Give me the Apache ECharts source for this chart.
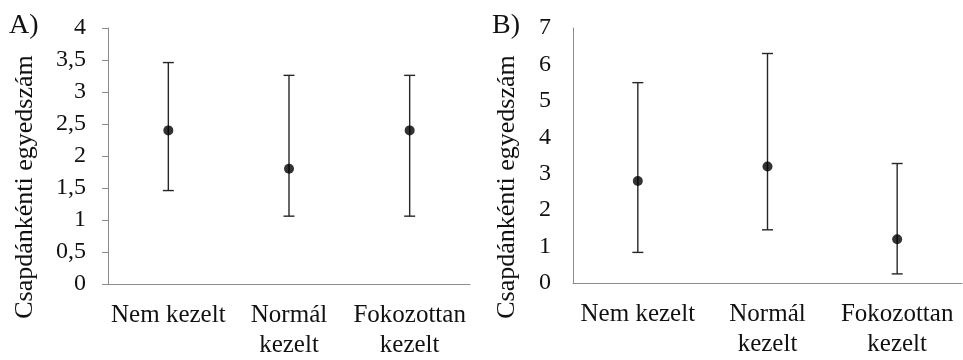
<!DOCTYPE html>
<html>
<head>
<meta charset="utf-8">
<script src="https://cdn.jsdelivr.net/npm/echarts@6/dist/echarts.min.js"></script>
<style>
  html, body { margin: 0; padding: 0; background: #fff; }
  #chart { width: 963px; height: 360px; }
</style>
</head>
<body>
<div id="chart"></div>
<script>
// Treatment groups
const categories = ['Nem kezelt', 'Normál\nkezelt', 'Fokozottan\nkezelt'];

// Panel A: mean catch per trap with lower / upper limits
const meanA = [2.4, 1.8, 2.4];
const lowA  = [1.46, 1.06, 1.06];
const highA = [3.46, 3.26, 3.26];

// Panel B: mean catch per trap with lower / upper limits
const meanB = [2.8, 3.2, 1.2];
const lowB  = [0.84, 1.46, 0.25];
const highB = [5.5, 6.3, 3.28];

const yTicksA = { min: 0, max: 4, interval: 0.5 };
const yTicksB = { min: 0, max: 7, interval: 1 };

const yTitle = 'Csapdánkénti egyedszám';
const serif = 'Liberation Serif';
const axisGray = '#8c8c8c';
const barColor = '#262626';

function errorData(low, high) {
  return categories.map((c, i) => [i, low[i], high[i]]);
}

function errorRender(params, api) {
  const x = api.value(0);
  const lo = api.coord([x, api.value(1)]);
  const hi = api.coord([x, api.value(2)]);
  const half = 5.5;
  const style = { stroke: barColor, lineWidth: 1.4, fill: null };
  return {
    type: 'group',
    children: [
      { type: 'line', shape: { x1: hi[0], y1: hi[1], x2: lo[0], y2: lo[1] }, style },
      { type: 'line', shape: { x1: hi[0] - half, y1: hi[1], x2: hi[0] + half, y2: hi[1] }, style },
      { type: 'line', shape: { x1: lo[0] - half, y1: lo[1], x2: lo[0] + half, y2: lo[1] }, style }
    ]
  };
}

function xAxisFor(gridIndex) {
  return {
    type: 'category',
    gridIndex,
    data: categories,
    boundaryGap: true,
    axisLine: { lineStyle: { color: axisGray, width: 1 } },
    axisTick: { show: false },
    axisLabel: {
      interval: 0,
      margin: 16,
      color: '#111',
      fontFamily: serif,
      fontSize: 25,
      lineHeight: 30
    },
    splitLine: { show: false }
  };
}

function yAxisFor(gridIndex, ticks, showTicks) {
  return {
    type: 'value',
    gridIndex,
    min: ticks.min,
    max: ticks.max,
    interval: ticks.interval,
    axisLine: { show: true, lineStyle: { color: axisGray, width: 1 } },
    axisTick: { show: showTicks, length: 6, lineStyle: { color: axisGray } },
    axisLabel: {
      margin: 22,
      color: '#111',
      fontFamily: serif,
      fontSize: 24,
      formatter: v => String(v).replace('.', ',')
    },
    splitLine: { show: false }
  };
}

const chart = echarts.init(document.getElementById('chart'), null, { renderer: 'canvas' });

chart.setOption({
  backgroundColor: '#ffffff',
  animation: false,
  grid: [
    { left: 108, right: 493, top: 28, bottom: 74 },
    { left: 573, right: 1, top: 28, bottom: 77 }
  ],
  xAxis: [xAxisFor(0), xAxisFor(1)],
  yAxis: [yAxisFor(0, yTicksA, true), yAxisFor(1, yTicksB, false)],
  graphic: [
    { type: 'text', left: 9, top: 12, style: { text: 'A)', fontFamily: serif, fontSize: 28, fill: '#111' } },
    { type: 'text', left: 492, top: 12, style: { text: 'B)', fontFamily: serif, fontSize: 28, fill: '#111' } },
    { type: 'text', x: 25, y: 187, rotation: Math.PI / 2,
      style: { text: yTitle, fontFamily: serif, fontSize: 26, fill: '#111', align: 'center', verticalAlign: 'middle' } },
    { type: 'text', x: 507, y: 187, rotation: Math.PI / 2,
      style: { text: yTitle, fontFamily: serif, fontSize: 26, fill: '#111', align: 'center', verticalAlign: 'middle' } }
  ],
  series: [
    { type: 'custom', xAxisIndex: 0, yAxisIndex: 0, renderItem: errorRender, data: errorData(lowA, highA), z: 2 },
    { type: 'scatter', xAxisIndex: 0, yAxisIndex: 0, data: meanA, symbolSize: 10, itemStyle: { color: '#000' }, z: 3 },
    { type: 'custom', xAxisIndex: 1, yAxisIndex: 1, renderItem: errorRender, data: errorData(lowB, highB), z: 2 },
    { type: 'scatter', xAxisIndex: 1, yAxisIndex: 1, data: meanB, symbolSize: 10, itemStyle: { color: '#000' }, z: 3 }
  ]
});
</script>
</body>
</html>
